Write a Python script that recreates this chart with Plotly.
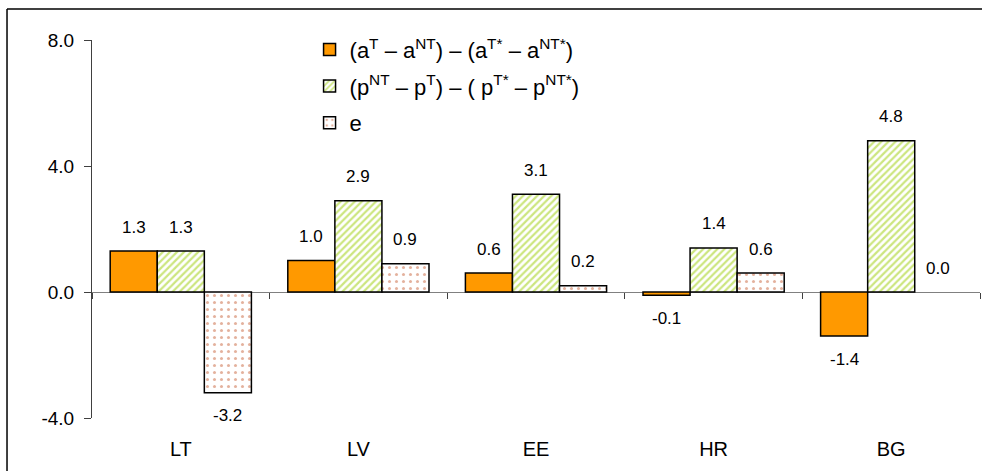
import plotly.graph_objects as go

categories = ["LT", "LV", "EE", "HR", "BG"]
series_names = [
    "(a<sup>T</sup> – a<sup>NT</sup>) – (a<sup>T*</sup> – a<sup>NT*</sup>)",
    "(p<sup>NT</sup> – p<sup>T</sup>) – ( p<sup>T*</sup> – p<sup>NT*</sup>)",
    "e",
]
productivity = [1.3, 1.0, 0.6, -0.1, -1.4]
prices = [1.3, 2.9, 3.1, 1.4, 4.8]
exchange = [-3.2, 0.9, 0.2, 0.6, 0.0]
y_ticks = [-4.0, 0.0, 4.0, 8.0]
y_tick_text = ["-4.0", "0.0", "4.0", "8.0"]

FONT = "Liberation Sans, Arial, sans-serif"


def outline(vals):
    # zero-height bars show no outline
    return [0 if v == 0 else 1.5 for v in vals]


fig = go.Figure()
fig.add_trace(go.Bar(
    x=categories, y=productivity, name=series_names[0], legendgroup="a",
    marker=dict(color="#FF9900",
                line=dict(color="black", width=outline(productivity))),
))
fig.add_trace(go.Bar(
    x=categories, y=prices, name=series_names[1], legendgroup="p",
    marker=dict(color="white", line=dict(color="black", width=outline(prices)),
                pattern=dict(shape="/", fgcolor="#99CC00", bgcolor="white",
                             size=5, solidity=0.45)),
))
fig.add_trace(go.Bar(
    x=categories, y=exchange, name=series_names[2], legendgroup="e",
    marker=dict(color="white", line=dict(color="black", width=outline(exchange)),
                pattern=dict(shape=".", fgcolor="#C8643C", bgcolor="white",
                             size=7, solidity=0.15)),
))

# invisible helper trace for the zero-line tick axis
fig.add_trace(go.Scatter(
    x=categories, y=[0] * len(categories), xaxis="x2", mode="markers",
    marker=dict(opacity=0), showlegend=False, hoverinfo="skip",
))

# value labels
shifts = [-47, 0, 47]
annotations = []
for s, vals in enumerate([productivity, prices, exchange]):
    for c, v in zip(categories, vals):
        annotations.append(dict(
            x=c, y=v, xref="x", yref="y", text=f"{v:.1f}", showarrow=False,
            xshift=shifts[s], yshift=24 if v >= 0 else -23,
            font=dict(size=17, color="black", family=FONT),
            xanchor="center", yanchor="middle",
        ))

fig.update_layout(
    width=982, height=471,
    margin=dict(l=92, r=2, t=40, b=53),
    paper_bgcolor="white", plot_bgcolor="white",
    font=dict(family=FONT, size=17, color="black"),
    barmode="group", bargap=0.205, bargroupgap=0,
    showlegend=True,
    legend=dict(x=0.245, y=1.03, xanchor="left", yanchor="top",
                bgcolor="rgba(0,0,0,0)", font=dict(size=22, family=FONT),
                tracegroupgap=5),
    annotations=annotations,
    xaxis=dict(type="category", categoryarray=categories, showline=False,
               ticks="", showgrid=False, zeroline=False,
               tickfont=dict(size=20), ticklabelstandoff=17),
    xaxis2=dict(type="category", categoryarray=categories, overlaying="x",
                matches="x", anchor="free", position=1/3, side="bottom",
                showline=False, ticks="outside", tickson="boundaries",
                ticklen=6, tickcolor="#404040", showticklabels=False,
                showgrid=False, zeroline=False),
    yaxis=dict(range=[-4, 8], tickvals=y_ticks, ticktext=y_tick_text,
               showline=True, linecolor="#404040", linewidth=1,
               ticks="outside", ticklen=7, tickcolor="#404040",
               showgrid=False, zeroline=True, zerolinecolor="#808080",
               zerolinewidth=1, tickfont=dict(size=19), ticklabelstandoff=6),
    shapes=[
        dict(type="line", xref="paper", yref="paper",
             x0=-0.0957, x1=1.01, y0=1.082, y1=1.082,
             line=dict(color="black", width=1.5), layer="above"),
        dict(type="line", xref="paper", yref="paper",
             x0=-0.0957, x1=-0.0957, y0=-0.2, y1=1.082,
             line=dict(color="black", width=1.5), layer="above"),
    ],
)

fig.write_html(
    "out.html",
    config={"displayModeBar": False},
    post_script=(
        "document.body.style.margin='0';"
        "document.body.style.overflow='hidden';"
        "document.documentElement.style.overflow='hidden';"
    ),
)
